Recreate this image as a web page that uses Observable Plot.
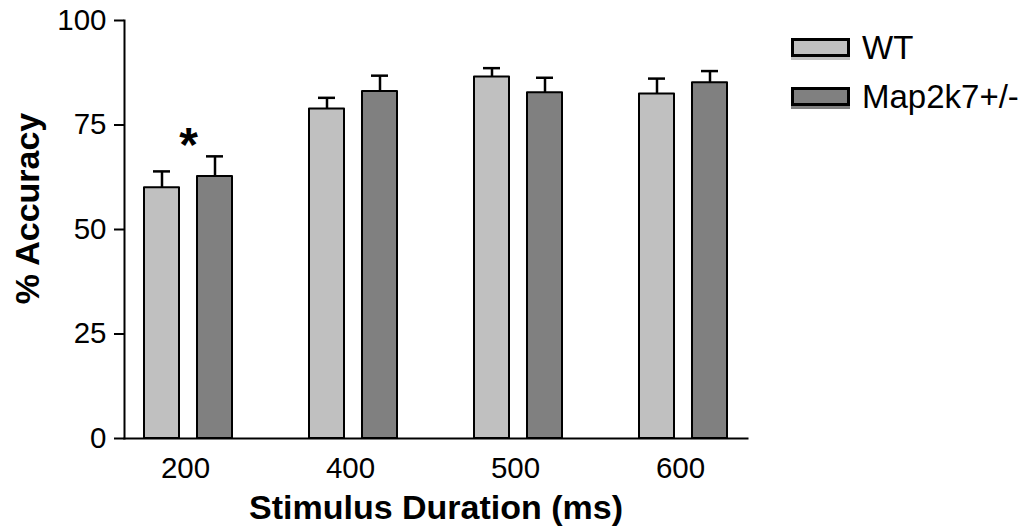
<!DOCTYPE html>
<html>
<head>
<meta charset="utf-8">
<script src="https://cdn.jsdelivr.net/npm/d3@7"></script>
<script src="https://cdn.jsdelivr.net/npm/@observablehq/plot@0.6"></script>
<style>
  html, body { margin: 0; padding: 0; background: white; }
  #wrap { position: relative; width: 1032px; height: 530px; font-family: "Liberation Sans", Arial, sans-serif; }
  .legend { position: absolute; left: 791px; top: 0; }
  .row { position: absolute; left: 0; display: flex; align-items: center; white-space: nowrap; }
  .sw { width: 53px; height: 13px; border: 3px solid black; margin-right: 12px; }
  .lab { font-size: 33px; color: black; line-height: 1; }
</style>
</head>
<body>
<div id="wrap"></div>
<script>
const durations = ["200", "400", "500", "600"];
const groups = ["WT", "Map2k7+/-"];
const colors = ["#c0c0c0", "#808080"];
const wtMeans = [60.0, 78.8, 86.5, 82.4];
const wtErrors = [3.9, 2.7, 2.1, 3.7];
const mapMeans = [62.7, 83.0, 82.7, 85.1];
const mapErrors = [4.8, 3.8, 3.6, 2.8];
const yTicks = [0, 25, 50, 75, 100];
const xTitle = "Stimulus Duration (ms)";
const yTitle = "% Accuracy";
const stars = [{duration: "200", y: 70, label: "*"}];

const rows = [];
durations.forEach((d, i) => {
  rows.push({duration: d, group: groups[0], value: wtMeans[i], err: wtErrors[i]});
  rows.push({duration: d, group: groups[1], value: mapMeans[i], err: mapErrors[i]});
});

const font = "'Liberation Sans', Arial, sans-serif";

const chart = Plot.plot({
  width: 1032,
  height: 530,
  marginLeft: 123,
  marginRight: 284,
  marginTop: 20,
  marginBottom: 92,
  style: {fontFamily: font, fontSize: "29px", color: "black", background: "white", overflow: "visible"},
  fx: {domain: durations, paddingInner: 0.224, paddingOuter: 0, axis: null},
  x: {domain: groups, axis: null, paddingInner: 1/3, paddingOuter: 0.356},
  y: {domain: [0, 100], axis: null},
  color: {domain: groups, range: colors},
  marks: [
    Plot.axisY({ticks: yTicks, tickSize: 10, tickPadding: 8, strokeWidth: 2, label: null, fontSize: 29.5}),
    Plot.axisFx({domain: durations, anchor: "bottom", tickSize: 0, tickPadding: 19, dx: -3, label: null, fontSize: 29.5}),
    Plot.ruleX(rows, {fx: "duration", x: "group", y1: "value", y2: d => d.value + d.err, stroke: "black", strokeWidth: 2.5}),
    Plot.tickY(rows, {fx: "duration", x: "group", y: d => d.value + d.err, stroke: "black", strokeWidth: 2.5, insetLeft: 9, insetRight: 9}),
    Plot.barY(rows, {fx: "duration", x: "group", y: "value", fill: "group", stroke: "black", strokeWidth: 2, strokeLinejoin: "round"}),
    Plot.text(stars, {fx: "duration", y: "y", text: "label", fontSize: 48, fontWeight: "bold"}),
    Plot.frame({anchor: "left", facet: "super", stroke: "black", strokeWidth: 2}),
    Plot.frame({anchor: "bottom", facet: "super", stroke: "black", strokeWidth: 2}),
    Plot.text([xTitle], {frameAnchor: "bottom", facet: "super", dy: 80, lineAnchor: "bottom", fontSize: 34, fontWeight: "bold"}),
    Plot.text([yTitle], {frameAnchor: "left", facet: "super", dx: -110, dy: -21, rotate: -90, textAnchor: "middle", lineAnchor: "top", fontSize: 34, fontWeight: "bold"})
  ]
});

const wrap = document.getElementById("wrap");
wrap.appendChild(chart);

const legend = document.createElement("div");
legend.className = "legend";
const rowTops = [31, 80];
groups.forEach((g, i) => {
  const row = document.createElement("div");
  row.className = "row";
  row.style.top = rowTops[i] + "px";
  const sw = document.createElement("div");
  sw.className = "sw";
  sw.style.background = colors[i];
  sw.style.boxShadow = `0 3px 0 ${colors[i]}`;
  const lab = document.createElement("span");
  lab.className = "lab";
  lab.textContent = g;
  row.appendChild(sw);
  row.appendChild(lab);
  legend.appendChild(row);
});
wrap.appendChild(legend);
</script>
</body>
</html>
